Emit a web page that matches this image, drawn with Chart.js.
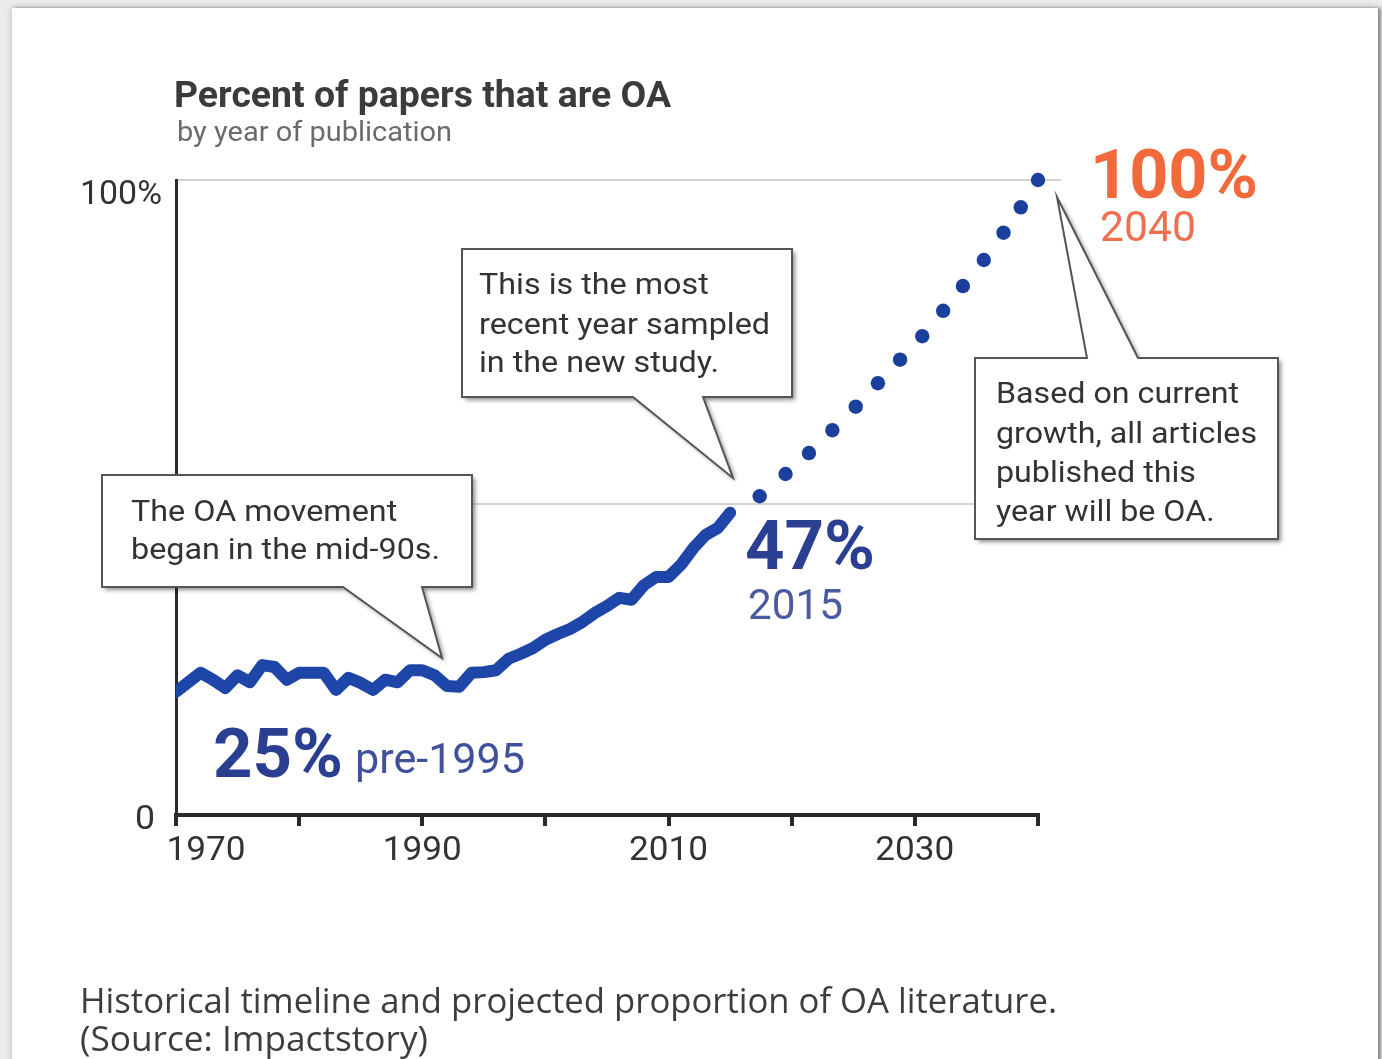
<!DOCTYPE html>
<html>
<head>
<meta charset="utf-8">
<script src="https://cdn.jsdelivr.net/npm/chart.js@4.4.1/dist/chart.umd.min.js"></script>
<style>
  html, body { margin: 0; padding: 0; width: 1382px; height: 1059px; overflow: hidden; background: #ececec; }
  #card { position: absolute; left: 12px; top: 8px; width: 1366px; height: 1090px; background: #fff;
          box-shadow: 0 0 8px rgba(0,0,0,0.22), 3px 0 3px rgba(0,0,0,0.35); }
  #c { position: absolute; left: 0; top: 0; }
</style>
</head>
<body>
<div id="card"></div>
<canvas id="c" width="1382" height="1059"></canvas>
<script>
// ---------- data ----------
const years = [1970,1971,1972,1973,1974,1975,1976,1977,1978,1979,
               1980,1981,1982,1983,1984,1985,1986,1987,1988,1989,
               1990,1991,1992,1993,1994,1995,1996,1997,1998,1999,
               2000,2001,2002,2003,2004,2005,2006,2007,2008,2009,
               2010,2011,2012,2013,2014,2015];
const oaShare = [19.4,20.9,22.4,21.3,20.0,22.0,20.9,23.6,23.3,21.3,
                 22.4,22.4,22.4,19.7,21.6,20.8,19.7,21.3,20.9,22.8,
                 22.8,22.0,20.3,20.2,22.4,22.5,22.8,24.6,25.4,26.3,
                 27.6,28.5,29.3,30.4,31.8,32.9,34.2,33.9,36.2,37.5,
                 37.5,39.4,42.0,44.1,45.2,47.6];
const projYears = [2017.4,2019.5,2021.4,2023.3,2025.2,2027.0,2028.8,2030.6,2032.3,2033.9,2035.6,2037.2,2038.6,2040];
const projShare = [50.2,53.7,57.0,60.6,64.3,68.0,71.7,75.4,79.4,83.3,87.4,91.7,95.7,100];
const xTickValues = [1970,1990,2010,2030];
const xTickLabels = ['1970','1990','2010','2030'];
const yTickValues = [0,100];
const yTickLabels = ['0','100%'];
const refLines = [49,100];

// ---------- helpers ----------
function txt(ctx, s, x, y, size, weight, color, align, targetW, family, sxFixed) {
  ctx.save();
  ctx.font = weight + ' ' + size + 'px ' + (family || 'Roboto');
  ctx.fillStyle = color;
  ctx.textBaseline = 'alphabetic';
  ctx.textAlign = 'left';
  const w = ctx.measureText(s).width;
  let sx = sxFixed || (targetW ? Math.max(0.7, Math.min(1.25, targetW / w)) : 1);
  const dw = w * sx;
  const left = align === 'right' ? x - dw : (align === 'center' ? x - dw / 2 : x);
  ctx.translate(left, y);
  ctx.scale(sx, 1);
  ctx.fillText(s, 0, 0);
  ctx.restore();
}
function fitScale(ctx, s, size, weight, targetW, family) {
  ctx.save();
  ctx.font = weight + ' ' + size + 'px ' + (family || 'Roboto');
  const w = ctx.measureText(s).width;
  ctx.restore();
  return Math.max(0.75, Math.min(1.25, targetW / w));
}
function callout(ctx, pts) {
  ctx.save();
  ctx.beginPath();
  ctx.moveTo(pts[0][0], pts[0][1]);
  for (let i = 1; i < pts.length; i++) ctx.lineTo(pts[i][0], pts[i][1]);
  ctx.closePath();
  ctx.shadowColor = 'rgba(0,0,0,0.45)';
  ctx.shadowBlur = 4;
  ctx.shadowOffsetX = 3;
  ctx.shadowOffsetY = 3;
  ctx.fillStyle = '#ffffff';
  ctx.fill();
  ctx.shadowColor = 'transparent';
  ctx.lineWidth = 2;
  ctx.strokeStyle = '#555555';
  ctx.lineJoin = 'miter';
  ctx.stroke();
  ctx.restore();
}
function boxText(ctx, lines, x, baselines, size, longestIdx, targetW) {
  const sx = fitScale(ctx, lines[longestIdx], size, 'normal', targetW);
  lines.forEach((l, i) => txt(ctx, l, x, baselines[i], size, 'normal', '#333333', 'left', null, 'Roboto', sx));
}

const overlay = {
  id: 'overlay',
  beforeDatasetsDraw(chart) {
    const ctx = chart.ctx, xs = chart.scales.x, ys = chart.scales.y;
    ctx.save();
    ctx.strokeStyle = '#d2d2d2';
    ctx.lineWidth = 2;
    const x0 = xs.getPixelForValue(1970) + 2;
    let y = Math.round(ys.getPixelForValue(refLines[1]));
    ctx.beginPath(); ctx.moveTo(x0, y); ctx.lineTo(xs.getPixelForValue(2041.9), y); ctx.stroke();
    y = Math.round(ys.getPixelForValue(refLines[0]));
    ctx.beginPath(); ctx.moveTo(x0, y); ctx.lineTo(xs.getPixelForValue(2040), y); ctx.stroke();
    ctx.restore();
  },
  afterDraw(chart) {
    const ctx = chart.ctx, xs = chart.scales.x, ys = chart.scales.y;
    // title
    txt(ctx, 'Percent of papers that are OA', 174, 107, 37, 'bold', '#3b3b3b', 'left', 497);
    txt(ctx, 'by year of publication', 177, 141, 28, 'normal', '#6b6b6b', 'left', 275);
    // y tick labels
    txt(ctx, yTickLabels[1], 162, ys.getPixelForValue(yTickValues[1]) + 24, 34, 'normal', '#333333', 'right', 82);
    txt(ctx, yTickLabels[0], 155, ys.getPixelForValue(yTickValues[0]) + 14, 34, 'normal', '#333333', 'right', 20);
    // x tick labels
    xTickValues.forEach((v, i) => {
      let px = xs.getPixelForValue(v);
      if (i === 0) px += 30;
      txt(ctx, xTickLabels[i], px, 860, 34, 'normal', '#333333', 'center', 79);
    });
    // value annotations
    txt(ctx, '25%', 213, 777, 68, 'bold', '#2a3e92', 'left', 130);
    txt(ctx, 'pre-1995', 355, 773, 43, 'normal', '#40509a', 'left', 170);
    txt(ctx, '47%', 745, 569, 68, 'bold', '#2a3e92', 'left', 130);
    txt(ctx, '2015', 748, 619, 42, 'normal', '#4a5a9f', 'left', 95);
    txt(ctx, '100%', 1090, 198, 68, 'bold', '#f26a3b', 'left', 168);
    txt(ctx, '2040', 1100, 241, 42, 'normal', '#ee7050', 'left', 96);

    // callouts
    callout(ctx, [[102,475],[472,475],[472,587],[422,587],[442,658],[343,587],[102,587]]);
    boxText(ctx, ['The OA movement', 'began in the mid-90s.'], 131, [521, 559], 30, 1, 309);

    callout(ctx, [[462,249],[792,249],[792,397],[703,397],[733,478],[633,397],[462,397]]);
    boxText(ctx, ['This is the most', 'recent year sampled', 'in the new study.'], 479, [294, 334, 372], 30, 1, 291);

    callout(ctx, [[975,358],[1087,358],[1057,197],[1138,358],[1278,358],[1278,539],[975,539]]);
    boxText(ctx, ['Based on current', 'growth, all articles', 'published this', 'year will be OA.'], 996, [403, 443, 482, 521], 30, 1, 261);

    // caption
    txt(ctx, 'Historical timeline and projected proportion of OA literature.', 80, 1013, 34, 'normal', '#3d3d3d', 'left', 977, '"Open Sans"');
    txt(ctx, '(Source: Impactstory)', 80, 1051, 34, 'normal', '#3d3d3d', 'left', 348, '"Open Sans"');
  }
};

function build() {
  const ctx = document.getElementById('c').getContext('2d');
  new Chart(ctx, {
    type: 'line',
    data: {
      datasets: [
        {
          label: 'OA share',
          data: years.map((y, i) => ({ x: y, y: oaShare[i] })),
          borderColor: '#1e45a8',
          borderWidth: 12,
          pointRadius: 0,
          tension: 0,
          borderCapStyle: 'round',
          borderJoinStyle: 'round',
          fill: false
        },
        {
          label: 'Projection',
          data: projYears.map((y, i) => ({ x: y, y: projShare[i] })),
          showLine: false,
          pointRadius: 7.2,
          pointBackgroundColor: '#1b3f9c',
          pointBorderWidth: 0,
          clip: false
        }
      ]
    },
    options: {
      responsive: false,
      animation: false,
      events: [],
      layout: { padding: { top: 180, right: 344, left: 0, bottom: 0 } },
      plugins: { legend: { display: false }, tooltip: { enabled: false } },
      scales: {
        x: {
          type: 'linear', min: 1970, max: 2040,
          afterFit: s => { s.height = 244; },
          ticks: { display: false, stepSize: 10 },
          grid: { display: true, drawOnChartArea: false, drawTicks: true, tickLength: 11, lineWidth: 4, color: '#2a2a2a' },
          border: { display: true, width: 4, color: '#2a2a2a' }
        },
        y: {
          min: 0, max: 100,
          afterFit: s => { s.width = 176; },
          ticks: { display: false, stepSize: 100 },
          grid: { display: false },
          border: { display: true, width: 3, color: '#2a2a2a' }
        }
      }
    },
    plugins: [overlay]
  });
}
Promise.all([
  document.fonts.load('bold 37px Roboto'),
  document.fonts.load('normal 30px Roboto'),
  document.fonts.load('normal 34px "Open Sans"')
]).then(build, build);
</script>
</body>
</html>
